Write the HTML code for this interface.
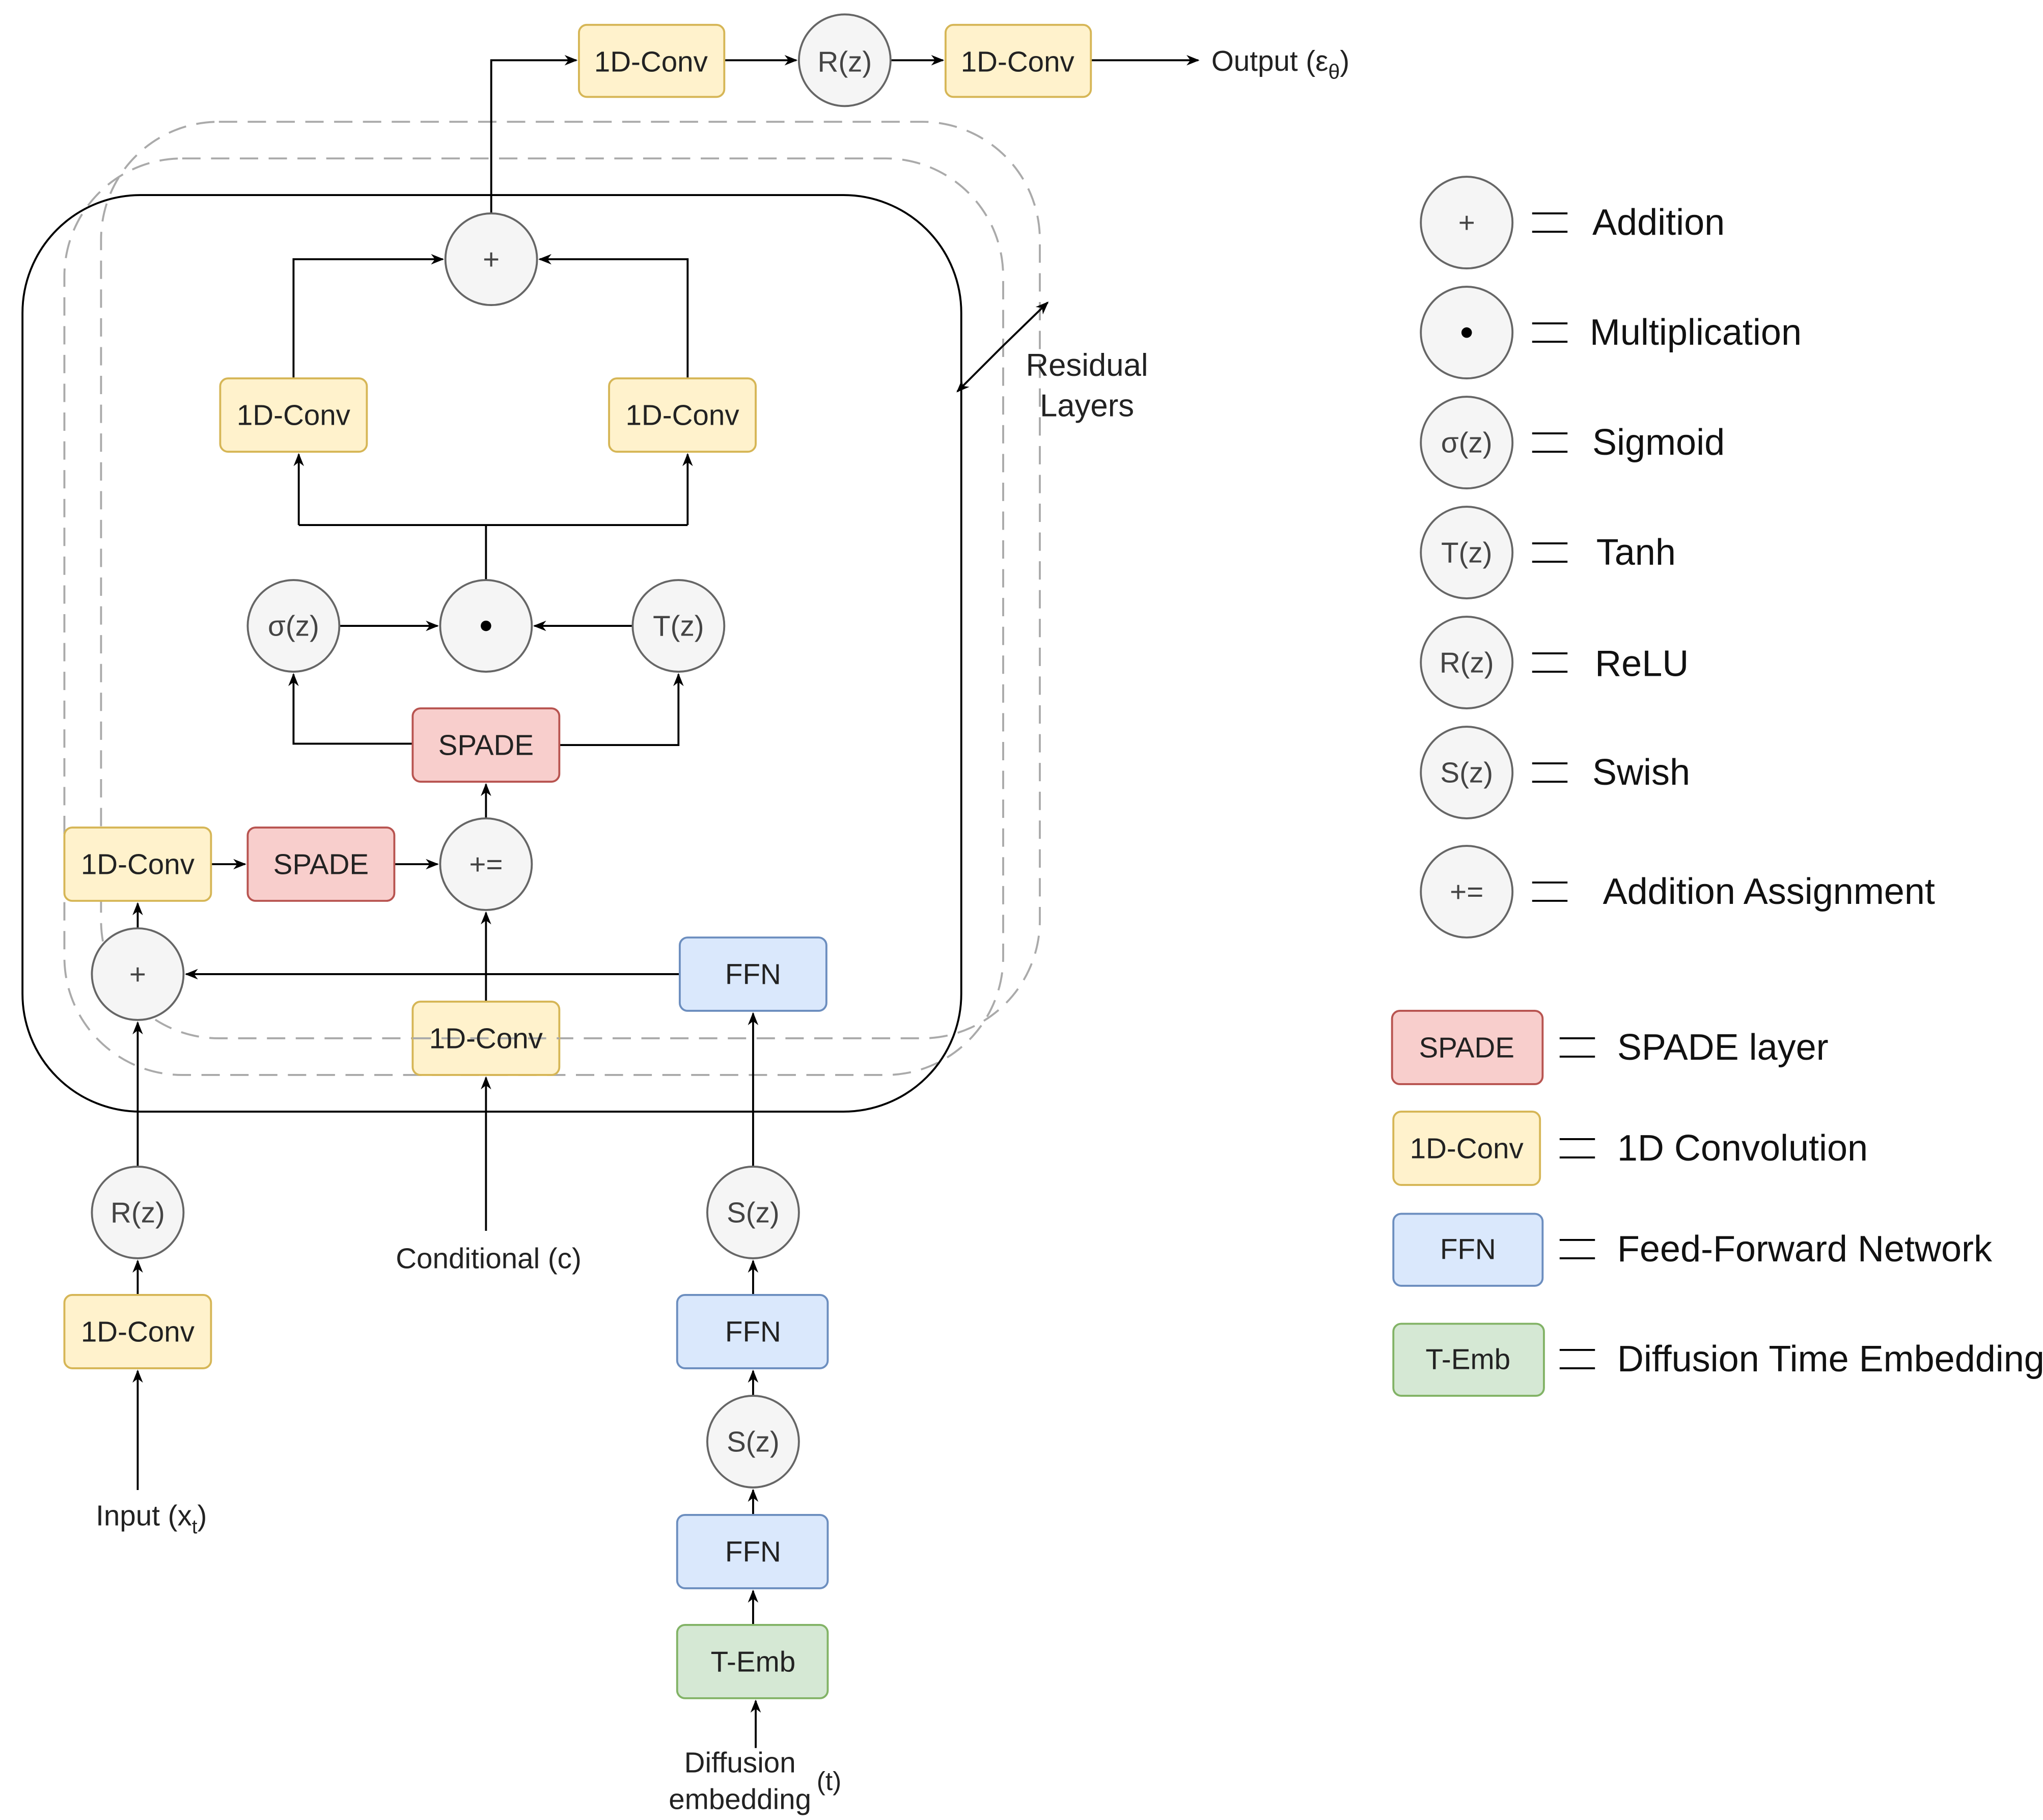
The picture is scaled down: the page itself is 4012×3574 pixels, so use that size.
<!DOCTYPE html>
<html><head><meta charset="utf-8"><style>
html,body{margin:0;padding:0;background:#fff;}
svg{display:block;}
text{font-family:"Liberation Sans",sans-serif;}
</style></head><body>
<svg width="4012" height="3574" viewBox="0 0 1560 1390" xmlns="http://www.w3.org/2000/svg">
<defs>
<marker id="a" markerWidth="10" markerHeight="10" refX="9" refY="5" orient="auto" markerUnits="userSpaceOnUse"><path d="M0,1 L10,5 L0,9 L3,5 Z" fill="#000"/></marker>
</defs>
<rect width="1560" height="1390" fill="#fff"/>
<!-- dashed residual layers -->
<rect x="77" y="93" width="717" height="700" rx="90" fill="none" stroke="#aaa" stroke-width="1.5" stroke-dasharray="14,8"/>
<rect x="49" y="121" width="717" height="700" rx="90" fill="none" stroke="#aaa" stroke-width="1.5" stroke-dasharray="14,8"/>
<rect x="17" y="149" width="717" height="700" rx="90" fill="none" stroke="#000" stroke-width="1.5"/>

<g stroke="#000" stroke-width="1.5" fill="none">
<polyline points="375,163 375,46 440,46" marker-end="url(#a)"/>
<line x1="553" y1="46" x2="608" y2="46" marker-end="url(#a)"/>
<line x1="680" y1="46" x2="720" y2="46" marker-end="url(#a)"/>
<line x1="833" y1="46" x2="915" y2="46" marker-end="url(#a)"/>
<polyline points="224,289 224,198 338,198" marker-end="url(#a)"/>
<polyline points="525,289 525,198 412,198" marker-end="url(#a)"/>
<line x1="371" y1="443" x2="371" y2="401"/>
<polyline points="228,401 525,401"/>
<line x1="228" y1="401" x2="228" y2="347" marker-end="url(#a)"/>
<line x1="525" y1="401" x2="525" y2="347" marker-end="url(#a)"/>
<line x1="259" y1="478" x2="334" y2="478" marker-end="url(#a)"/>
<line x1="483" y1="478" x2="408" y2="478" marker-end="url(#a)"/>
<polyline points="315,568 224,568 224,515" marker-end="url(#a)"/>
<polyline points="427,569 518,569 518,515" marker-end="url(#a)"/>
<line x1="371" y1="625" x2="371" y2="599" marker-end="url(#a)"/>
<line x1="161" y1="660" x2="187" y2="660" marker-end="url(#a)"/>
<line x1="301" y1="660" x2="334" y2="660" marker-end="url(#a)"/>
<line x1="105" y1="709" x2="105" y2="690" marker-end="url(#a)"/>
<line x1="519" y1="744" x2="142" y2="744" marker-end="url(#a)"/>
<line x1="371" y1="765" x2="371" y2="697" marker-end="url(#a)"/>
<line x1="371" y1="940" x2="371" y2="823" marker-end="url(#a)"/>
<line x1="105" y1="891" x2="105" y2="781" marker-end="url(#a)"/>
<line x1="105" y1="989" x2="105" y2="963" marker-end="url(#a)"/>
<line x1="105" y1="1138" x2="105" y2="1047" marker-end="url(#a)"/>
<line x1="575" y1="891" x2="575" y2="774" marker-end="url(#a)"/>
<line x1="575" y1="989" x2="575" y2="963" marker-end="url(#a)"/>
<line x1="575" y1="1066" x2="575" y2="1047" marker-end="url(#a)"/>
<line x1="575" y1="1157" x2="575" y2="1138" marker-end="url(#a)"/>
<line x1="575" y1="1241" x2="575" y2="1215" marker-end="url(#a)"/>
<line x1="577" y1="1335" x2="577" y2="1299" marker-end="url(#a)"/>
<line x1="765" y1="265" x2="731" y2="299" marker-end="url(#a)"/>
<line x1="765" y1="265" x2="800" y2="231" marker-end="url(#a)"/>
</g>

<!-- yellow boxes -->
<g fill="#fff2cc" stroke="#d6b656" stroke-width="1.5">
<rect x="442" y="19" width="111" height="55" rx="6"/>
<rect x="722" y="19" width="111" height="55" rx="6"/>
<rect x="168" y="289" width="112" height="56" rx="6"/>
<rect x="465" y="289" width="112" height="56" rx="6"/>
<rect x="49" y="632" width="112" height="56" rx="6"/>
<rect x="315" y="765" width="112" height="56" rx="6"/>
<rect x="49" y="989" width="112" height="56" rx="6"/>
<rect x="1064" y="849" width="112" height="56" rx="6"/>
</g>
<g fill="#f8cecc" stroke="#b85450" stroke-width="1.5">
<rect x="315" y="541" width="112" height="56" rx="6"/>
<rect x="189" y="632" width="112" height="56" rx="6"/>
<rect x="1063" y="772" width="115" height="56" rx="6"/>
</g>
<g fill="#dae8fc" stroke="#6c8ebf" stroke-width="1.5">
<rect x="519" y="716" width="112" height="56" rx="6"/>
<rect x="517" y="989" width="115" height="56" rx="6"/>
<rect x="517" y="1157" width="115" height="56" rx="6"/>
<rect x="1064" y="927" width="114" height="55" rx="6"/>
</g>
<g fill="#d5e8d4" stroke="#82b366" stroke-width="1.5">
<rect x="517" y="1241" width="115" height="56" rx="6"/>
<rect x="1064" y="1011" width="115" height="55" rx="6"/>
</g>
<!-- dashed line over 1D-conv bottom -->
<line x1="315" y1="793" x2="427" y2="793" stroke="#aaa" stroke-width="1.5" stroke-dasharray="14,8"/>

<!-- circles -->
<g fill="#f5f5f5" stroke="#666" stroke-width="1.5">
<circle cx="645" cy="46" r="35"/>
<circle cx="375" cy="198" r="35"/>
<circle cx="224" cy="478" r="35"/>
<circle cx="371" cy="478" r="35"/>
<circle cx="518" cy="478" r="35"/>
<circle cx="371" cy="660" r="35"/>
<circle cx="105" cy="744" r="35"/>
<circle cx="105" cy="926" r="35"/>
<circle cx="575" cy="926" r="35"/>
<circle cx="575" cy="1101" r="35"/>
<circle cx="1120" cy="170" r="35"/>
<circle cx="1120" cy="254" r="35"/>
<circle cx="1120" cy="338" r="35"/>
<circle cx="1120" cy="422" r="35"/>
<circle cx="1120" cy="506" r="35"/>
<circle cx="1120" cy="590" r="35"/>
<circle cx="1120" cy="681" r="35"/>
</g>
<circle cx="371" cy="478" r="4" fill="#000"/>
<circle cx="1120" cy="254" r="4" fill="#000"/>

<g font-size="22" fill="#222" text-anchor="middle" dominant-baseline="central">
<text x="497" y="47">1D-Conv</text>
<text x="645" y="47" fill="#444">R(z)</text>
<text x="777" y="47">1D-Conv</text>
<text x="375" y="198" fill="#444">+</text>
<text x="224" y="317">1D-Conv</text>
<text x="521" y="317">1D-Conv</text>
<text x="224" y="478" fill="#444">σ(z)</text>
<text x="518" y="478" fill="#444">T(z)</text>
<text x="371" y="569">SPADE</text>
<text x="105" y="660">1D-Conv</text>
<text x="245" y="660">SPADE</text>
<text x="371" y="660" fill="#444">+=</text>
<text x="105" y="744" fill="#444">+</text>
<text x="575" y="744">FFN</text>
<text x="371" y="793">1D-Conv</text>
<text x="105" y="926" fill="#444">R(z)</text>
<text x="575" y="926" fill="#444">S(z)</text>
<text x="105" y="1017">1D-Conv</text>
<text x="575" y="1017">FFN</text>
<text x="575" y="1101" fill="#444">S(z)</text>
<text x="575" y="1185">FFN</text>
<text x="575" y="1269">T-Emb</text>
<text x="373" y="961">Conditional  (c)</text>
<text x="565" y="1346">Diffusion</text>
<text x="565" y="1374">embedding</text>
<text x="633" y="1360" font-size="20">(t)</text>
<text x="830" y="279" font-size="24">Residual</text>
<text x="830" y="310" font-size="24">Layers</text>
<text x="1120" y="170" fill="#444">+</text>
<text x="1120" y="338" fill="#444">σ(z)</text>
<text x="1120" y="422" fill="#444">T(z)</text>
<text x="1120" y="506" fill="#444">R(z)</text>
<text x="1120" y="590" fill="#444">S(z)</text>
<text x="1120" y="681" fill="#444">+=</text>
<text x="1120" y="800">SPADE</text>
<text x="1120" y="877">1D-Conv</text>
<text x="1121" y="954">FFN</text>
<text x="1121" y="1038">T-Emb</text>
</g>
<text x="925" y="54" font-size="22" fill="#222">Output (ε<tspan font-size="16" dy="6">θ</tspan><tspan dy="-6">)</tspan></text>
<text x="73" y="1165" font-size="22" fill="#222">Input (x<tspan font-size="15" dy="6">t</tspan><tspan dy="-6">)</tspan></text>

<!-- legend equivalence lines -->
<g stroke="#000" stroke-width="1.5">
<line x1="1170" y1="163" x2="1197" y2="163"/><line x1="1170" y1="177" x2="1197" y2="177"/>
<line x1="1170" y1="247" x2="1197" y2="247"/><line x1="1170" y1="261" x2="1197" y2="261"/>
<line x1="1170" y1="331" x2="1197" y2="331"/><line x1="1170" y1="345" x2="1197" y2="345"/>
<line x1="1170" y1="415" x2="1197" y2="415"/><line x1="1170" y1="429" x2="1197" y2="429"/>
<line x1="1170" y1="499" x2="1197" y2="499"/><line x1="1170" y1="513" x2="1197" y2="513"/>
<line x1="1170" y1="583" x2="1197" y2="583"/><line x1="1170" y1="597" x2="1197" y2="597"/>
<line x1="1170" y1="674" x2="1197" y2="674"/><line x1="1170" y1="688" x2="1197" y2="688"/>
<line x1="1191" y1="793" x2="1218" y2="793"/><line x1="1191" y1="807" x2="1218" y2="807"/>
<line x1="1191" y1="870" x2="1218" y2="870"/><line x1="1191" y1="884" x2="1218" y2="884"/>
<line x1="1191" y1="947" x2="1218" y2="947"/><line x1="1191" y1="961" x2="1218" y2="961"/>
<line x1="1191" y1="1031" x2="1218" y2="1031"/><line x1="1191" y1="1045" x2="1218" y2="1045"/>
</g>
<g font-size="28" fill="#111" dominant-baseline="central">
<text x="1216" y="170">Addition</text>
<text x="1214" y="254">Multiplication</text>
<text x="1216" y="338">Sigmoid</text>
<text x="1219" y="422">Tanh</text>
<text x="1218" y="507">ReLU</text>
<text x="1216" y="590">Swish</text>
<text x="1224" y="681">Addition Assignment</text>
<text x="1235" y="800">SPADE layer</text>
<text x="1235" y="877">1D Convolution</text>
<text x="1235" y="954">Feed-Forward Network</text>
<text x="1235" y="1038">Diffusion Time Embedding</text>
</g>
</svg>
</body></html>
